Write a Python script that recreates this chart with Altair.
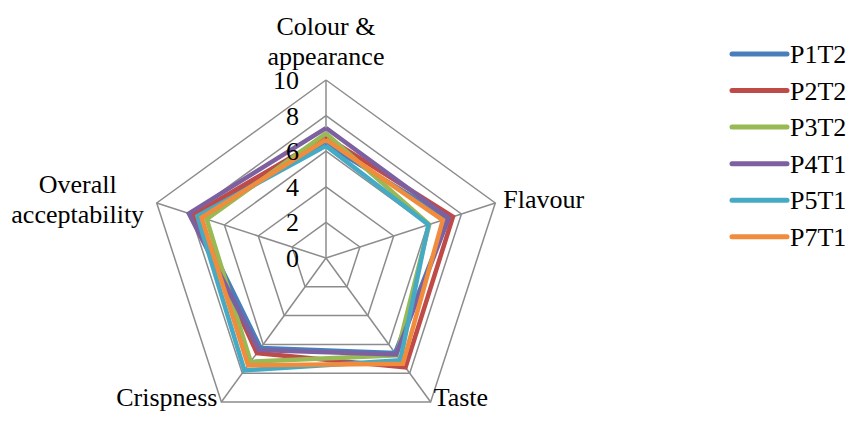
import altair as alt
import pandas as pd

categories = ["Colour & appearance", "Flavour", "Taste", "Crispness", "Overall acceptability"]
series = ["P1T2", "P2T2", "P3T2", "P4T1", "P5T1", "P7T1"]
# values per series, in category order
p1t2 = [6.4, 7.2, 6.6, 6.25, 7.7]
p2t2 = [6.8, 7.5, 7.6, 6.6, 7.85]
p3t2 = [7.0, 6.1, 6.75, 7.2, 7.05]
p4t1 = [7.3, 7.25, 6.7, 6.4, 8.1]
p5t1 = [6.3, 6.05, 7.1, 7.8, 7.6]
p7t1 = [6.65, 6.9, 7.35, 7.45, 7.35]
series_values = [p1t2, p2t2, p3t2, p4t1, p5t1, p7t1]
tick_values = [0, 2, 4, 6, 8, 10]
ring_levels = [2, 4, 6, 8, 10]
max_value = 10
colors = ["#4A7EBB", "#BE4B48", "#98B954", "#7D60A0", "#46AAC5", "#F08C3C"]

N = len(categories)
FONT = "Liberation Serif"
FS = 26

# ---- data tables ----
rows = []
for s, vals in zip(series, series_values):
    for k in range(N + 1):
        rows.append({"series": s, "k": k, "value": vals[k % N]})
df_series = pd.DataFrame(rows)

ring_rows = []
for lv in ring_levels:
    for k in range(N + 1):
        ring_rows.append({"level": lv, "k": k, "value": lv})
df_rings = pd.DataFrame(ring_rows)

spoke_rows = []
for k in range(N):
    spoke_rows.append({"spoke": k, "k": k, "value": 0, "o": 0})
    spoke_rows.append({"spoke": k, "k": k, "value": max_value, "o": 1})
df_spokes = pd.DataFrame(spoke_rows)

df_ticks = pd.DataFrame({"value": tick_values, "k": 0, "label": [str(t) for t in tick_values]})
df_cats = pd.DataFrame({"cat": categories, "k": list(range(N)), "value": max_value})
df_legend = pd.DataFrame({"series": series, "idx": list(range(len(series)))})

# ---- scales ----
PX = 17.8  # pixels per unit
W, H = 838, 405
CX, CY = 318, 250
xs = alt.Scale(domain=[-CX / PX, (W - CX) / PX], nice=False, zero=False)
ys = alt.Scale(domain=[-(H - CY) / PX, CY / PX], nice=False, zero=False)
cs = alt.Scale(domain=series, range=colors)


def polar(ch):
    return ch.transform_calculate(
        ang=f"PI/2 - 2*PI*datum.k/{N}"
    ).transform_calculate(
        px="datum.value*cos(datum.ang)", py="datum.value*sin(datum.ang)"
    )


X = alt.X("px:Q", scale=xs, axis=None)
Y = alt.Y("py:Q", scale=ys, axis=None)
GRID = "#8C8C8C"

rings = polar(alt.Chart(df_rings)).mark_line(color=GRID, strokeWidth=1.5, strokeJoin="miter").encode(
    x=X, y=Y, detail="level:N", order="k:Q"
)
spokes = polar(alt.Chart(df_spokes)).mark_line(color=GRID, strokeWidth=1.5).encode(
    x=X, y=Y, detail="spoke:N", order="o:Q"
)
lines = polar(alt.Chart(df_series)).mark_line(strokeWidth=4.5, strokeJoin="miter").encode(
    x=X, y=Y, color=alt.Color("series:N", scale=cs, legend=None), detail="series:N", order="k:Q"
)
ticks = polar(alt.Chart(df_ticks)).mark_text(
    font=FONT, fontSize=FS, align="right", baseline="middle", dx=-27, dy=1, color="black"
).encode(x=X, y=Y, text="label:N")

label_styles = [
    dict(align="center", dx=0, dy=-45),
    dict(align="left", dx=8, dy=5),
    dict(align="left", dx=3, dy=4),
    dict(align="right", dx=-4, dy=4),
    dict(align="center", dx=-79, dy=-10),
]
label_exprs = [
    "['Colour &', 'appearance']",
    "[datum.cat]",
    "[datum.cat]",
    "[datum.cat]",
    "split(datum.cat, ' ')",
]
cat_layers = []
for i, st in enumerate(label_styles):
    c = polar(alt.Chart(df_cats)).transform_filter(f"datum.k == {i}").transform_calculate(
        lab=label_exprs[i]
    ).mark_text(
        font=FONT, fontSize=FS, align=st["align"], baseline="alphabetic",
        dx=st["dx"], dy=st["dy"], lineHeight=30, color="black"
    ).encode(x=X, y=Y, text="lab:N")
    cat_layers.append(c)

LX0 = 724  # legend line start (plot px)
legend_lines = alt.Chart(df_legend).transform_calculate(
    ly=f"({CY} - 46 - 36.55*datum.idx)/{PX}",
    lx1=f"({LX0} - {CX})/{PX}", lx2=f"({LX0 + 55} - {CX})/{PX}"
).mark_rule(strokeWidth=5, strokeCap="round").encode(
    x=alt.X("lx1:Q", scale=xs, axis=None), x2="lx2:Q",
    y=alt.Y("ly:Q", scale=ys, axis=None),
    color=alt.Color("series:N", scale=cs, legend=None)
)
legend_text = alt.Chart(df_legend).transform_calculate(
    ly=f"({CY} - 46 - 36.55*datum.idx)/{PX}",
    ltx=f"({LX0 + 58} - {CX})/{PX}"
).mark_text(font=FONT, fontSize=FS, align="left", baseline="middle", dy=1, color="black").encode(
    x=alt.X("ltx:Q", scale=xs, axis=None), y=alt.Y("ly:Q", scale=ys, axis=None), text="series:N"
)

chart = alt.layer(rings, spokes, lines, ticks, *cat_layers, legend_lines, legend_text).properties(
    width=W, height=H, padding=0, autosize=alt.AutoSizeParams(type="none")
).configure_view(stroke=None)

chart.save("out.html", embed_options={"renderer": "svg", "actions": False})
